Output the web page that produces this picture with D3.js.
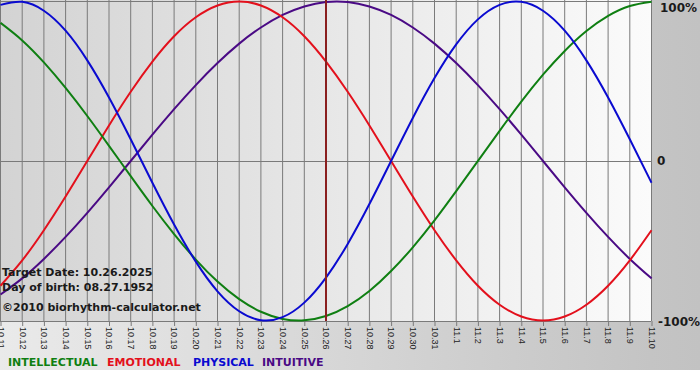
<!DOCTYPE html>
<html>
<head>
<meta charset="utf-8">
<script src="https://cdn.jsdelivr.net/npm/d3@7"></script>
<style>
html,body{margin:0;padding:0;background:#fff;}
svg{display:block;}
</style>
</head>
<body>
<svg id="chart" width="700" height="380"></svg>
<script>
const dates = ["10.11","10.12","10.13","10.14","10.15","10.16","10.17","10.18","10.19","10.20","10.21","10.22","10.23","10.24","10.25","10.26","10.27","10.28","10.29","10.30","10.31","11.1","11.2","11.3","11.4","11.5","11.6","11.7","11.8","11.9","11.10"];
const physical = [0.979,0.998,0.942,0.817,0.631,0.398,0.136,-0.136,-0.398,-0.631,-0.817,-0.942,-0.998,-0.979,-0.888,-0.731,-0.520,-0.270,0,0.270,0.520,0.731,0.888,0.979,0.998,0.942,0.817,0.631,0.398,0.136,-0.136];
const emotional = [-0.782,-0.623,-0.434,-0.223,0,0.223,0.434,0.623,0.782,0.901,0.975,1,0.975,0.901,0.782,0.623,0.434,0.223,0,-0.223,-0.434,-0.623,-0.782,-0.901,-0.975,-1,-0.975,-0.901,-0.782,-0.623,-0.434];
const intellectual = [0.866,0.756,0.618,0.458,0.282,0.095,-0.095,-0.282,-0.458,-0.618,-0.756,-0.866,-0.945,-0.990,-0.999,-0.972,-0.910,-0.815,-0.690,-0.541,-0.372,-0.189,0,0.189,0.372,0.541,0.690,0.815,0.910,0.972,0.999];
const intuitive = [-0.837,-0.736,-0.614,-0.476,-0.325,-0.165,0,0.165,0.325,0.476,0.614,0.736,0.837,0.916,0.969,0.997,0.997,0.969,0.916,0.837,0.736,0.614,0.476,0.325,0.165,0,-0.165,-0.325,-0.476,-0.614,-0.736];
const seriesNames = ["INTELLECTUAL","EMOTIONAL","PHYSICAL","INTUITIVE"];
const yTickLabels = ["100%","0","-100%"];
const yTickValues = [1,0,-1];
const targetDate = "10.26";
const infoLines = ["Target Date: 10.26.2025","Day of birth: 08.27.1952","©2010 biorhythm-calculator.net"];

const colors = {INTELLECTUAL:"#0f7f12",EMOTIONAL:"#e3101c",PHYSICAL:"#0a0ad0",INTUITIVE:"#4a0a85"};
const seriesData = {INTELLECTUAL:intellectual,EMOTIONAL:emotional,PHYSICAL:physical,INTUITIVE:intuitive};

const svg = d3.select("#chart");
const plotL = 0.5, plotR = 651.5, plotT = 0.5, plotB = 320.5;

const defs = svg.append("defs");
const g1 = defs.append("linearGradient").attr("id","bgGrad").attr("x1","0").attr("x2","1").attr("y1","0").attr("y2","0");
g1.append("stop").attr("offset","0").attr("stop-color","#eaeaea");
g1.append("stop").attr("offset","0.93").attr("stop-color","#c4c4c4");
g1.append("stop").attr("offset","1").attr("stop-color","#c2c2c2");
const g2 = defs.append("linearGradient").attr("id","plotGrad").attr("x1","0").attr("x2","1").attr("y1","0").attr("y2","0");
g2.append("stop").attr("offset","0").attr("stop-color","#d3d3d3");
g2.append("stop").attr("offset","1").attr("stop-color","#fbfbfb");

svg.append("rect").attr("x",0).attr("y",0).attr("width",700).attr("height",370).attr("fill","url(#bgGrad)");
svg.append("rect").attr("x",0).attr("y",0).attr("width",651).attr("height",321).attr("fill","url(#plotGrad)");

const x = d3.scalePoint().domain(dates).range([plotL, plotR]);
const y = d3.scaleLinear().domain([-1,1]).range([plotB, plotT+1]);

// vertical grid
svg.append("g").selectAll("line").data(dates).join("line")
  .attr("x1",d=>x(d)).attr("x2",d=>x(d)).attr("y1",0).attr("y2",321)
  .attr("stroke","#7a7a7a").attr("stroke-width",1);
// horizontal border and zero line
[0.5, y(0), 320.5].forEach(v=>{
  svg.append("line").attr("x1",0).attr("x2",651).attr("y1",Math.round(v)+0.5).attr("y2",Math.round(v)+0.5)
    .attr("stroke","#7a7a7a").attr("stroke-width",1);
});

// x axis
const xAxis = d3.axisBottom(x).tickSize(5).tickPadding(3);
const ax = svg.append("g").attr("transform","translate(0,321)").call(xAxis);
ax.select(".domain").remove();
ax.selectAll(".tick line").attr("stroke","#7a7a7a");
ax.selectAll(".tick text")
  .attr("transform","rotate(90)")
  .attr("x",6).attr("y",0).attr("dy","0.35em")
  .attr("text-anchor","start")
  .attr("fill","#222")
  .style("font-family","'Liberation Sans', Arial, sans-serif")
  .style("font-size","9px");

// lines
const line = d3.line().x((d,i)=>x(dates[i])).y(d=>y(d)).curve(d3.curveNatural);
const drawOrder = ["INTUITIVE","EMOTIONAL","INTELLECTUAL","PHYSICAL"];
drawOrder.forEach(name=>{
  svg.append("path").datum(seriesData[name]).attr("d",line)
    .attr("fill","none").attr("stroke",colors[name]).attr("stroke-width",2);
});

// target line
svg.append("line").attr("x1",x(targetDate)).attr("x2",x(targetDate)).attr("y1",0).attr("y2",321)
  .attr("stroke","#8a1f1f").attr("stroke-width",2);

// right labels
const rightLabelY = [8, 161, 322];
const rightLabelX = [660, 657, 658];
svg.append("g").selectAll("text").data(yTickValues).join("text")
  .attr("x",(d,i)=>rightLabelX[i])
  .attr("y",(d,i)=>rightLabelY[i]).attr("dy","0.35em")
  .attr("fill","#1a1a1a")
  .style("font-family","'DejaVu Sans', Verdana, sans-serif")
  .style("font-weight","bold").style("font-size","12px")
  .text((d,i)=>yTickLabels[i]);

// info text
const infoY = [276, 291, 311];
svg.append("g").selectAll("text").data(infoLines).join("text")
  .attr("x",2).attr("y",(d,i)=>infoY[i])
  .attr("fill","#1a1a1a")
  .style("font-family","'DejaVu Sans', Verdana, sans-serif")
  .style("font-weight","bold").style("font-size","11px")
  .text(d=>d);

// legend
const legendX = [8,107,193,262];
svg.append("g").selectAll("text").data(seriesNames).join("text")
  .attr("x",(d,i)=>legendX[i]).attr("y",366)
  .attr("fill",d=>colors[d])
  .style("font-family","'DejaVu Sans', Verdana, sans-serif")
  .style("font-weight","bold").style("font-size","11px")
  .text(d=>d);
</script>
</body>
</html>
